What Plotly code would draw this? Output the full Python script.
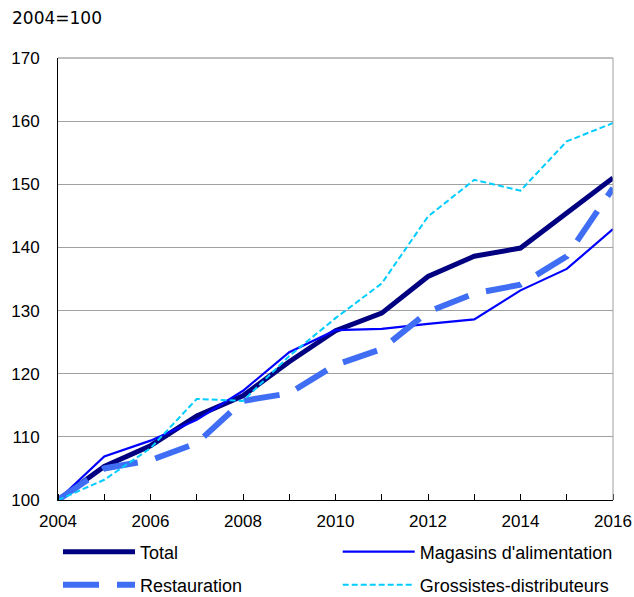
import plotly.graph_objects as go

years = list(range(2004, 2017))
total = [100, 105.3, 108.6, 113.3, 116.5, 121.9, 126.8, 129.6, 135.4, 138.6, 139.9, 145.4, 151.0]
magasins = [100, 106.9, 109.4, 112.7, 117.3, 123.4, 126.9, 127.1, 127.9, 128.6, 133.2, 136.6, 142.9]
restauration = [100, 105.0, 106.3, 109.0, 115.7, 116.9, 121.4, 123.9, 129.8, 132.7, 134.1, 138.6, 149.4]
grossistes = [100, 103.2, 108.2, 116.0, 115.7, 122.8, 128.8, 134.3, 144.9, 150.7, 149.0, 156.8, 159.7]

font = "Liberation Sans, Arial, sans-serif"

fig = go.Figure()
fig.add_trace(go.Scatter(x=years, y=total, name="Total", mode="lines",
                         line=dict(color="#000080", width=5), legend="legend"))
fig.add_trace(go.Scatter(x=years, y=magasins, name="Magasins d'alimentation", mode="lines",
                         line=dict(color="#0000ff", width=2.2), legend="legend2"))
fig.add_trace(go.Scatter(x=years, y=restauration, name="Restauration", mode="lines",
                         line=dict(color="#3f6ef5", width=6, dash="36px,18px"), legend="legend3"))
fig.add_trace(go.Scatter(x=years, y=grossistes, name="Grossistes-distributeurs", mode="lines",
                         line=dict(color="#00ccff", width=2, dash="6px,3px"), legend="legend4"))

# one legend per entry so the 2x2 grid matches the original
leg = dict(xanchor="left", yanchor="middle", font=dict(size=18), itemwidth=72,
           bgcolor="rgba(0,0,0,0)")
col1, col2 = 0.0, 0.504
row1, row2 = -0.1176, -0.1923

fig.update_layout(
    width=634, height=597,
    margin=dict(l=58, r=21, t=58, b=97, autoexpand=False),
    plot_bgcolor="white", paper_bgcolor="white",
    font=dict(family=font, size=17, color="black"),
    showlegend=True,
    legend=dict(leg, x=col1, y=row1),
    legend2=dict(leg, x=col2, y=row1),
    legend3=dict(leg, x=col1, y=row2),
    legend4=dict(leg, x=col2, y=row2),
    annotations=[dict(text="2004=100", xref="paper", yref="paper", x=-0.0865, y=1.0905,
                      xanchor="left", yanchor="middle", showarrow=False,
                      font=dict(family="DejaVu Sans, Verdana, sans-serif", size=17))],
)
fig.update_xaxes(range=[2004, 2016], tickvals=list(range(2004, 2017, 2)),
                 showgrid=False, zeroline=False, showline=True, linecolor="black", linewidth=1,
                 ticks="", ticklabelstandoff=6,
                 minor=dict(tickvals=years, ticks="inside", ticklen=6, tickcolor="black"))
fig.update_yaxes(range=[100, 170], dtick=10, showgrid=True, gridcolor="#a0a0a0", gridwidth=1,
                 zeroline=False, showline=True, linecolor="black", linewidth=1,
                 ticks="", ticklabelstandoff=14)
# grey top and right frame
fig.add_shape(type="line", xref="paper", yref="paper", x0=0, x1=1, y0=1, y1=1,
              line=dict(color="#808080", width=1))
fig.add_shape(type="line", xref="paper", yref="paper", x0=1, x1=1, y0=0, y1=1,
              line=dict(color="#a0a0a0", width=1))

# drop the default 8px body margin so the figure fills the window exactly
fig.write_html("out.html", config={"displayModeBar": False},
               post_script="document.body.style.margin='0';")
